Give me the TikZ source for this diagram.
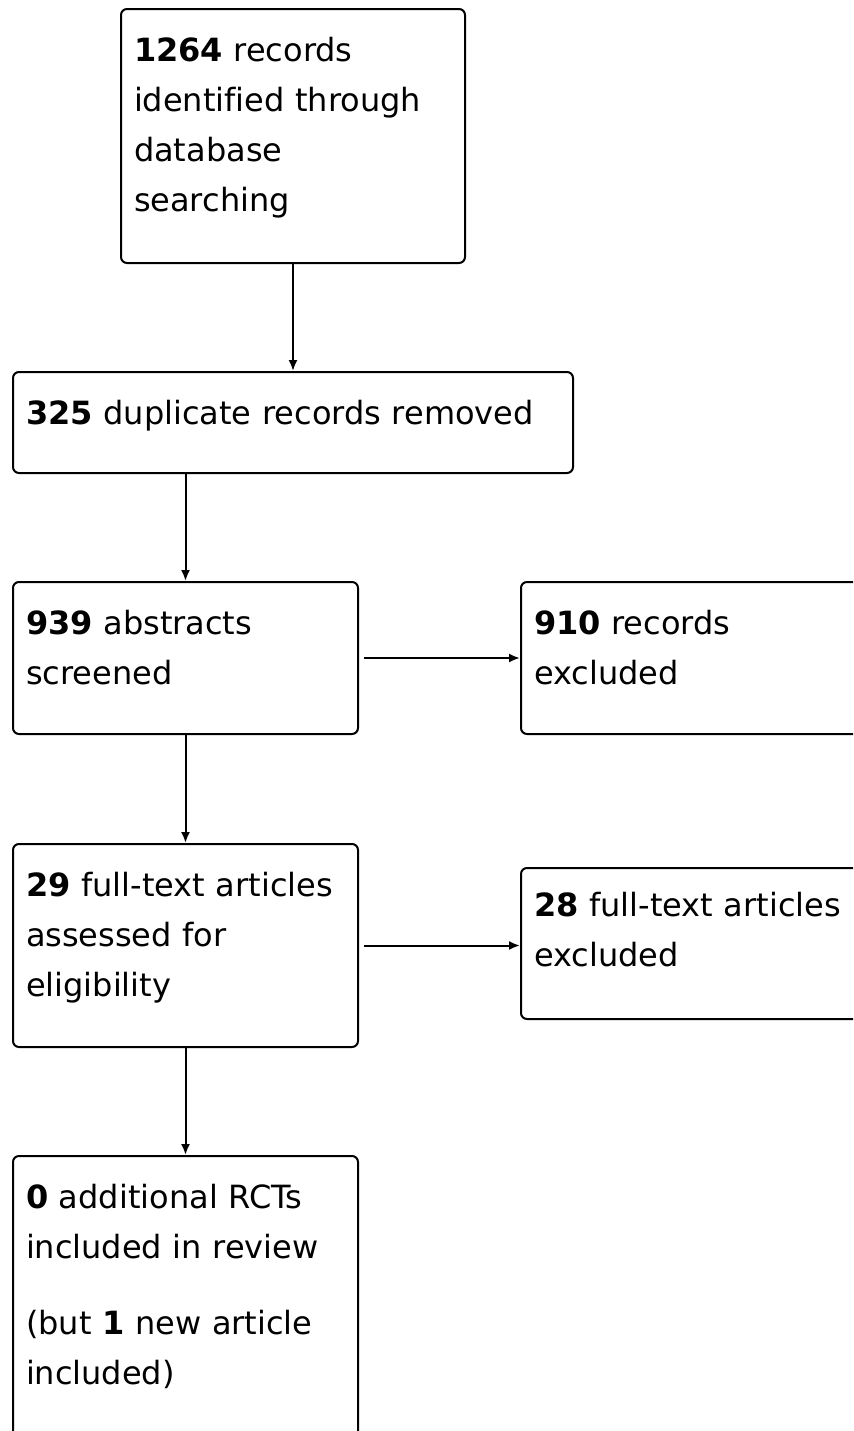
\documentclass[tikz,border=0pt]{standalone}
\usepackage{fontspec}
\setmainfont{DejaVu Sans}[Ligatures=NoCommon]
\usepackage{tikz}
\usetikzlibrary{arrows.meta}

\begin{document}
\begin{tikzpicture}[x=0.5pt, y=-0.5pt, >={Latex[length=5.5pt,width=4.5pt]},
    box/.style={draw, line width=1pt, rounded corners=3pt, anchor=north west,
                align=left, inner xsep=6.5pt, inner ysep=0pt, text height=26pt,
                font=\fontsize{16}{25}\selectfont},
    flow/.style={->, line width=1pt}]
  \useasboundingbox (0,0) rectangle (853,1431);
  \clip (0,0) rectangle (853,1431);
  % hang giua: cac buoc chinh
  \node[box, text width=159pt, text depth=101pt] (rec) at (120,8)
      {\textbf{1264} records\\identified through\\database\\searching};
  \node[box, text width=267pt, text depth=24.5pt] (dup) at (12,371)
      {\textbf{325} duplicate records removed};
  \node[box, text width=159.5pt, text depth=50pt] (abs) at (12,581)
      {\textbf{939} abstracts\\screened};
  \node[box, text width=159.5pt, text depth=75.5pt] (full) at (12,843)
      {\textbf{29} full-text articles\\assessed for\\eligibility};
  \node[box, text width=159.5pt, text depth=124pt] (incl) at (12,1155)
      {\textbf{0} additional RCTs\\included in review\\[13pt]
       (but \textbf{1} new article\\included)};
  % cot phai: loai bo
  \node[box, text width=167pt, text depth=50pt] (excl) at (520,581)
      {\textbf{910} records\\excluded};
  \node[box, text width=167pt, text height=24pt, text depth=51.5pt] (fexcl) at (520,867)
      {\textbf{28} full-text articles\\excluded};
  % mui ten doc
  \foreach \a/\b in {rec/dup, dup/abs, abs/full, full/incl}
    \draw[flow] (\a.south -| \b.north) -- (\b.north);
  % mui ten ngang
  \draw[flow, shorten <=2.5pt] (abs.east) -- (abs.east -| excl.west);
  \draw[flow, shorten <=2.5pt] (full.east) -- (full.east -| fexcl.west);
\end{tikzpicture}
\end{document}
